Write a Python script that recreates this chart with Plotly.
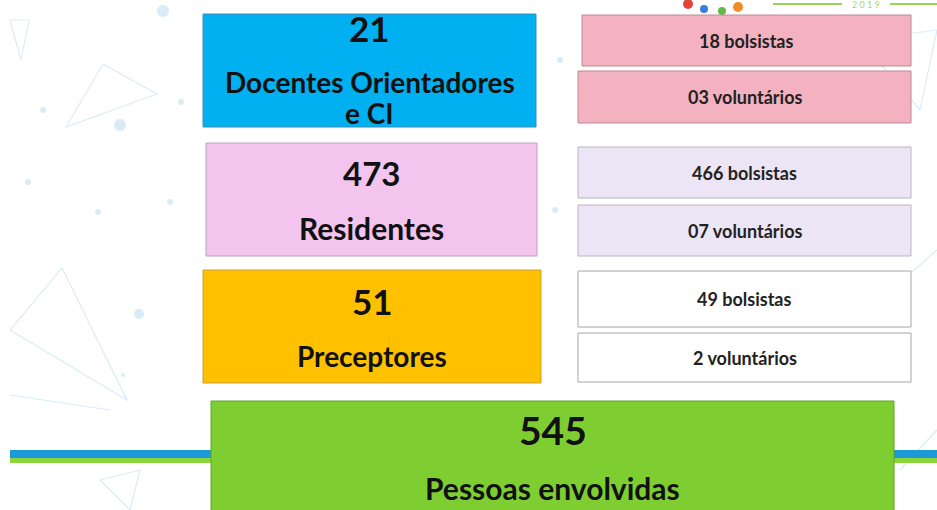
import plotly.graph_objects as go

# ---- data ----
group_totals = ["21", "473", "51"]
group_labels = ["Docentes Orientadores<br>e CI", "Residentes", "Preceptores"]
bolsistas = ["18", "466", "49"]
voluntarios = ["03", "07", "2"]
grand_total = "545"
grand_label = "Pessoas envolvidas"

# ---- layout (pixel geometry, page coordinates) ----
W, H = 937, 510
left_boxes = [(203, 14, 536, 127), (206, 143, 537, 256), (203, 270, 541, 383)]
left_fill = ["#00B0F0", "#F2C4EE", "#FFC000"]
left_line = ["#3A8FB8", "#B9A0BE", "#C9A23A"]
num_y = [28, 173, 301]
lab_y = [[82, 113], [228], [356]]
num_size = [35, 33, 35]
lab_size = [28, 30, 28]
right_boxes = [
    [(582, 15, 911, 66), (578, 71, 911, 123)],
    [(578, 147, 911, 198), (578, 205, 911, 256)],
    [(578, 271, 911, 327), (578, 333, 911, 382)],
]
right_fill = ["#F4B1BF", "#ECE5F6", "#FFFFFF"]
right_line = ["#B98C96", "#B8B3C4", "#A6A6A6"]
green_box = (211, 401, 894, 520)

fig = go.Figure()
shapes = []

# faint background decoration
tri_color = "rgba(150,200,230,0.35)"
triangles = [
    [(10, 20), (29, 20), (21, 60)],
    [(103, 64), (157, 94), (66, 127)],
    [(62, 268), (127, 400), (10, 330)],
    [(10, 395), (110, 410)],
    [(100, 480), (140, 470), (130, 510)],
    [(860, 40), (937, 30), (920, 110)],
    [(880, 300), (937, 250)],
    [(900, 470), (937, 430)],
]
for tri in triangles:
    path = "M " + " L ".join(f"{x},{y}" for x, y in tri)
    if len(tri) > 2:
        path += " Z"
    shapes.append(dict(type="path", path=path, line=dict(color=tri_color, width=1.2)))
dots = [(163, 11, 6), (120, 125, 6), (43, 110, 3), (181, 102, 3), (28, 182, 3), (98, 212, 3),
        (170, 202, 3), (139, 314, 5), (123, 375, 2), (555, 210, 3), (560, 60, 3)]
for x, y, r in dots:
    shapes.append(dict(type="circle", x0=x - r, x1=x + r, y0=y - r, y1=y + r,
                       fillcolor="rgba(160,205,235,0.4)", line=dict(width=0)))

# stripe
for x0, x1 in [(10, 211), (894, 940)]:
    shapes.append(dict(type="rect", x0=x0, x1=x1, y0=450, y1=458, fillcolor="#1A9BD7", line=dict(width=0)))
    shapes.append(dict(type="rect", x0=x0, x1=x1, y0=458, y1=463, fillcolor="#8BD63B", line=dict(width=0)))

# top-right header decoration
shapes.append(dict(type="line", x0=773, x1=842, y0=4, y1=4, line=dict(color="#9BD35A", width=2)))
shapes.append(dict(type="line", x0=890, x1=940, y0=4, y1=4, line=dict(color="#9BD35A", width=2)))
for x, y, r, c in [(688, 4, 5, "#E0453A"), (704, 9, 4, "#3B7DD8"), (722, 11, 4, "#5DBB46"), (738, 7, 5, "#F28C28")]:
    shapes.append(dict(type="circle", x0=x - r, x1=x + r, y0=y - r, y1=y + r, fillcolor=c, line=dict(width=0)))

# left boxes
for (x0, y0, x1, y1), fc, lc in zip(left_boxes, left_fill, left_line):
    shapes.append(dict(type="rect", x0=x0, y0=y0, x1=x1, y1=y1, fillcolor=fc, line=dict(color=lc, width=1)))
# right boxes
for pair, fc, lc in zip(right_boxes, right_fill, right_line):
    for (x0, y0, x1, y1) in pair:
        shapes.append(dict(type="rect", x0=x0, y0=y0, x1=x1, y1=y1, fillcolor=fc, line=dict(color=lc, width=1)))
# green box
gx0, gy0, gx1, gy1 = green_box
shapes.append(dict(type="rect", x0=gx0, y0=gy0, x1=gx1, y1=gy1, fillcolor="#7ECE31", line=dict(color="#5FA52A", width=1)))

annotations = []
FONT = "Lato"
for i in range(3):
    x0, y0, x1, y1 = left_boxes[i]
    cx = (x0 + x1) / 2
    annotations.append(dict(x=cx, y=num_y[i], text=f"<b>{group_totals[i]}</b>", showarrow=False,
                            font=dict(family=FONT, size=num_size[i], color="#111111")))
    for line_txt, ly in zip(group_labels[i].split("<br>"), lab_y[i]):
        annotations.append(dict(x=cx, y=ly, text=f"<b>{line_txt}</b>", showarrow=False,
                                font=dict(family=FONT, size=lab_size[i], color="#111111")))
    for j, (txt, suffix) in enumerate([(bolsistas[i], "bolsistas"), (voluntarios[i], "voluntários")]):
        bx0, by0, bx1, by1 = right_boxes[i][j]
        annotations.append(dict(x=(bx0 + bx1) / 2, y=(by0 + by1) / 2, text=f"<b>{txt} {suffix}</b>",
                                showarrow=False, font=dict(family=FONT, size=18, color="#222222")))

gcx = (gx0 + gx1) / 2
annotations.append(dict(x=gcx, y=430, text=f"<b>{grand_total}</b>", showarrow=False,
                        font=dict(family=FONT, size=39, color="#111111")))
annotations.append(dict(x=gcx, y=488, text=f"<b>{grand_label}</b>", showarrow=False,
                        font=dict(family=FONT, size=30, color="#111111")))
annotations.append(dict(x=866, y=4, text="2 0 1 9", showarrow=False,
                        font=dict(family=FONT, size=9, color="#A5D86A")))

fig.update_layout(
    width=W, height=H, margin=dict(l=0, r=0, t=0, b=0),
    paper_bgcolor="white", plot_bgcolor="white",
    xaxis=dict(range=[0, W], visible=False, fixedrange=True),
    yaxis=dict(range=[H, 0], visible=False, fixedrange=True),
    shapes=shapes, annotations=annotations, showlegend=False,
)
fig.add_trace(go.Scatter(x=[], y=[]))
fig.write_html("out.html", post_script="document.body.style.margin='0';document.body.style.overflow='hidden';",
               config={"displayModeBar": False})
